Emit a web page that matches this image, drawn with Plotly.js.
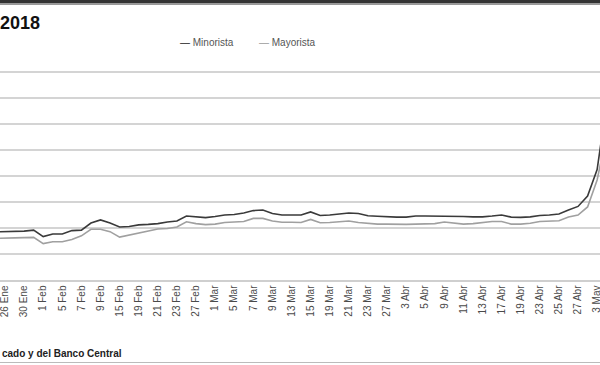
<!DOCTYPE html>
<html>
<head>
<meta charset="utf-8">
<script src="https://cdn.plot.ly/plotly-3.0.1.min.js"></script>
<style>html,body{margin:0;padding:0;background:#fff;}#chart{width:600px;height:365px;}</style>
</head>
<body>
<div id="chart"></div>
<script>
var dates = ["25 Ene","26 Ene","29 Ene","30 Ene","31 Ene","1 Feb","2 Feb","5 Feb","6 Feb","7 Feb","8 Feb","9 Feb","14 Feb","15 Feb","16 Feb","19 Feb","20 Feb","21 Feb","22 Feb","23 Feb","26 Feb","27 Feb","28 Feb","1 Mar","2 Mar","5 Mar","6 Mar","7 Mar","8 Mar","9 Mar","12 Mar","13 Mar","14 Mar","15 Mar","16 Mar","19 Mar","20 Mar","21 Mar","22 Mar","23 Mar","26 Mar","27 Mar","28 Mar","3 Abr","4 Abr","5 Abr","6 Abr","9 Abr","10 Abr","11 Abr","12 Abr","13 Abr","16 Abr","17 Abr","18 Abr","19 Abr","20 Abr","23 Abr","24 Abr","25 Abr","26 Abr","27 Abr","2 May","3 May","4 May"];

var tickLabels = ["26 Ene","30 Ene","1 Feb","5 Feb","7 Feb","9 Feb","15 Feb","19 Feb","21 Feb","23 Feb","27 Feb","1 Mar","5 Mar","7 Mar","9 Mar","13 Mar","15 Mar","19 Mar","21 Mar","23 Mar","27 Mar","3 Abr","5 Abr","9 Abr","11 Abr","13 Abr","17 Abr","19 Abr","23 Abr","25 Abr","27 Abr","3 May"];

var minorista = [19.85,19.86,19.87,19.88,19.92,19.67,19.77,19.77,19.90,19.92,20.19,20.31,20.19,20.04,20.06,20.12,20.14,20.17,20.23,20.27,20.46,20.44,20.40,20.44,20.50,20.52,20.58,20.67,20.69,20.56,20.50,20.50,20.50,20.62,20.48,20.50,20.53,20.58,20.56,20.47,20.45,20.43,20.42,20.42,20.46,20.46,20.46,20.46,20.46,20.44,20.43,20.43,20.46,20.50,20.42,20.41,20.43,20.48,20.50,20.54,20.69,20.83,21.23,22.25,24.80];

var mayorista = [19.60,19.60,19.62,19.63,19.64,19.40,19.47,19.47,19.56,19.70,19.95,19.95,19.86,19.65,19.73,19.81,19.90,19.96,19.98,20.04,20.24,20.17,20.13,20.15,20.21,20.24,20.25,20.37,20.37,20.27,20.22,20.22,20.21,20.33,20.20,20.21,20.24,20.27,20.21,20.17,20.15,20.15,20.14,20.14,20.15,20.16,20.17,20.23,20.19,20.15,20.17,20.20,20.25,20.25,20.15,20.15,20.18,20.25,20.27,20.28,20.42,20.50,20.81,21.85,23.60];

var seriesNames = ["Minorista","Mayorista"];
var titleText = "2018";
var sourceText = "cado y del Banco Central";

var traces = [
  {x: dates, y: mayorista, type: "scatter", mode: "lines", name: seriesNames[1],
   line: {color: "#a0a0a0", width: 1.6}, showlegend: false},
  {x: dates, y: minorista, type: "scatter", mode: "lines", name: seriesNames[0],
   line: {color: "#3a3a3a", width: 1.6}, showlegend: false}
];

var H = 209; // plot height in px
function py(p){ return (280 - p) / H; }

var layout = {
  width: 600, height: 365,
  margin: {l: 0, r: 0, t: 71, b: 85, pad: 0},
  paper_bgcolor: "#fff", plot_bgcolor: "#fff",
  title: {text: "<b>" + titleText + "</b>", x: 0, xref: "container", xanchor: "left",
          y: 1 - 23/365, yref: "container", yanchor: "middle",
          font: {family: "Liberation Sans, Arial, sans-serif", size: 18, color: "#111"}},
  xaxis: {
    type: "category", range: [0.476, 63.3],
    tickmode: "array", tickvals: tickLabels, ticktext: tickLabels,
    tickangle: -90, ticks: "", showgrid: false, zeroline: false,
    showline: true, linecolor: "#cfcfcf", linewidth: 1.5,
    tickfont: {family: "Liberation Sans, Arial, sans-serif", size: 10, color: "#4a4a4a"},
    fixedrange: true
  },
  yaxis: {
    range: [18, 26.04], dtick: 1, tick0: 18, showticklabels: false, ticks: "",
    showgrid: true, gridcolor: "#d4d4d4", gridwidth: 1.5, zeroline: false, showline: false,
    fixedrange: true
  },
  showlegend: false,
  annotations: [
    {xref: "paper", yref: "paper", x: 178/600, y: py(42), xanchor: "left", yanchor: "middle",
     text: '<span style="color:#222">—</span> ' + seriesNames[0], showarrow: false,
     font: {family: "Liberation Sans, Arial, sans-serif", size: 10, color: "#555"}},
    {xref: "paper", yref: "paper", x: 257/600, y: py(42), xanchor: "left", yanchor: "middle",
     text: '<span style="color:#999">—</span> ' + seriesNames[1], showarrow: false,
     font: {family: "Liberation Sans, Arial, sans-serif", size: 10, color: "#555"}},
    {xref: "paper", yref: "paper", x: 0, y: py(353), xanchor: "left", yanchor: "middle",
     text: "<b>" + sourceText + "</b>", showarrow: false,
     font: {family: "Liberation Sans, Arial, sans-serif", size: 10, color: "#222"}}
  ],
  shapes: [
    {type: "rect", xref: "paper", yref: "paper", x0: 0, x1: 1, y0: py(3.5), y1: py(0),
     fillcolor: "#333", line: {width: 0}},
    {type: "rect", xref: "paper", yref: "paper", x0: 0, x1: 1, y0: py(5), y1: py(3.5),
     fillcolor: "#999", line: {width: 0}},
    {type: "line", xref: "paper", yref: "paper", x0: 0, x1: 1, y0: py(362.5), y1: py(362.5),
     line: {color: "#bbb", width: 1}}
  ]
};

Plotly.newPlot("chart", traces, layout, {displayModeBar: false, staticPlot: true});
</script>
</body>
</html>
